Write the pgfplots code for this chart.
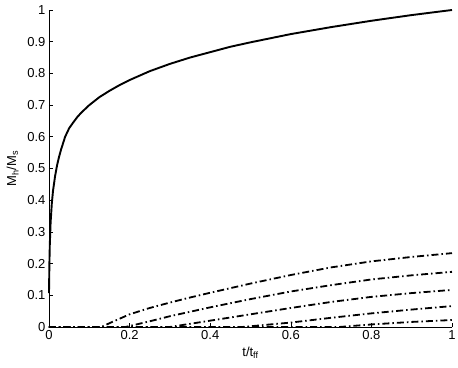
\documentclass[border=0pt]{standalone}
\usepackage{fontspec}
\setmainfont{Liberation Sans}
\usepackage{pgfplots}
\pgfplotsset{compat=1.18}
\begin{document}
\begin{tikzpicture}
\tikzset{dd/.style={black, line width=1.8pt, dash pattern=on 7pt off 3pt on 1.5pt off 3pt}}
\begin{axis}[
    name=ax,
    scale only axis, width=403pt, height=317pt,
    xmin=0, xmax=1, ymin=0, ymax=1,
    axis x line=bottom, axis y line=left,
    axis line style={-, line width=0.6pt},
    tick align=inside, major tick length=4pt,
    tick style={line width=0.6pt, black},
    xtick={0,0.2,0.4,0.6,0.8,1},
    ytick={0,0.1,0.2,0.3,0.4,0.5,0.6,0.7,0.8,0.9,1},
    /pgf/number format/assume math mode=true,
    tick label style={font=\fontsize{13}{15}\selectfont},
    label style={font=\fontsize{13}{15}\selectfont},
    xlabel={t/t\textsubscript{ff}},
    ylabel={M\textsubscript{h}/M\textsubscript{s}},
    ylabel style={yshift=2pt},
    clip=false,
]
% solid curve
\addplot[black, line width=1.9pt, line join=round] coordinates {
    (0,0.107)(0.001,0.2)(0.002,0.26)(0.004,0.33)(0.007,0.39)(0.01,0.43)
    (0.015,0.475)(0.02,0.51)(0.025,0.537)(0.03,0.56)(0.04,0.60)(0.05,0.627)
    (0.06,0.645)(0.07,0.662)(0.08,0.676)(0.09,0.688)(0.1,0.70)(0.125,0.725)
    (0.15,0.745)(0.175,0.763)(0.2,0.779)(0.25,0.807)(0.3,0.830)(0.35,0.850)
    (0.4,0.867)(0.45,0.884)(0.5,0.898)(0.55,0.911)(0.6,0.924)(0.65,0.935)
    (0.7,0.946)(0.75,0.956)(0.8,0.966)(0.85,0.975)(0.9,0.984)(0.95,0.992)(1.0,1.0)
};
% dash-dot curves
\addplot[dd] coordinates {
    (0,0)(0.13,0)(0.15,0.012)(0.2,0.040)(0.25,0.060)(0.3,0.077)(0.35,0.093)
    (0.4,0.108)(0.5,0.137)(0.6,0.164)(0.7,0.188)(0.8,0.207)(0.9,0.221)(1,0.233)
};
\addplot[dd] coordinates {
    (0,0)(0.19,0)(0.25,0.018)(0.3,0.034)(0.4,0.062)(0.5,0.088)(0.6,0.112)
    (0.7,0.132)(0.8,0.150)(0.9,0.163)(1,0.174)
};
\addplot[dd] coordinates {
    (0,0)(0.3,0)(0.4,0.02)(0.5,0.04)(0.6,0.06)(0.7,0.079)(0.8,0.095)(0.9,0.107)(1,0.117)
};
\addplot[dd] coordinates {
    (0,0)(0.48,0)(0.6,0.014)(0.7,0.029)(0.8,0.043)(0.9,0.055)(1,0.066)
};
\addplot[dd] coordinates {
    (0,0)(0.72,0)(0.8,0.008)(0.9,0.016)(1,0.022)
};
\end{axis}
\pgfresetboundingbox
\path[use as bounding box] ([xshift=-49pt,yshift=-41pt]ax.south west) rectangle ([xshift=6pt,yshift=10pt]ax.north east);
\end{tikzpicture}
\end{document}
